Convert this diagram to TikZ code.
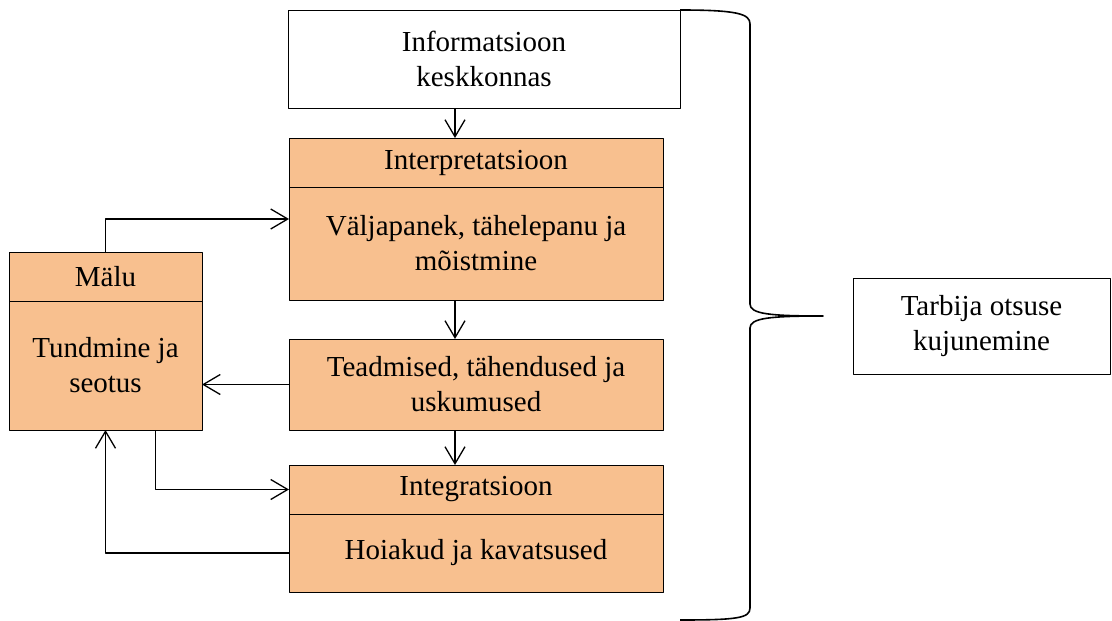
\documentclass[tikz,border=0pt]{standalone}
\usepackage{fontspec}
\setmainfont{Liberation Serif}
\usetikzlibrary{arrows.meta,calc,positioning}
\definecolor{boxfill}{HTML}{F8C08F}

\begin{document}
\begin{tikzpicture}[x=1pt,y=-1pt,>={Straight Barb[length=17pt,width=20pt]},line join=round,
  font=\fontsize{29}{35}\selectfont,
  box/.style={draw,line width=1pt,inner sep=0pt,outer sep=0pt,align=center},
  stage/.style={box,fill=boxfill,minimum width=374pt},
  flow/.style={->,line width=1.3pt}]
  \useasboundingbox (0,0) rectangle (1112,621);
  \coordinate (ax) at (455,0);
  % boxes
  \node[box,minimum width=392pt,minimum height=98pt] (info) at (484,59) {Informatsioon\\keskkonnas};
  \node[stage,minimum height=49pt] (interpt) at (476,162.5) {Interpretatsioon};
  \node[stage,minimum height=113pt,below=0pt of interpt] (interpb) {Väljapanek, tähelepanu ja\\mõistmine};
  \node[stage,minimum height=91pt] (teadm) at (476,384.5) {Teadmised, tähendused ja\\uskumused};
  \node[stage,minimum height=49pt] (integt) at (476,489.5) {Integratsioon};
  \node[stage,minimum height=78pt,below=0pt of integt] (integb) {Hoiakud ja kavatsused};
  \node[stage,minimum width=193pt,minimum height=49pt] (malut) at (105.5,276.5) {Mälu};
  \node[stage,minimum width=193pt,minimum height=129pt,below=0pt of malut] (malub) {Tundmine ja\\seotus};
  \node[box,minimum width=257pt,minimum height=96pt] (tarbija) at (981.5,326) {Tarbija otsuse\\kujunemine};
  % arrows
  \draw[flow] (info.south -| ax) -- (interpt.north -| ax);
  \draw[flow] (interpb.south -| ax) -- (teadm.north -| ax);
  \draw[flow] (teadm.south -| ax) -- (integt.north -| ax);
  \draw[flow] (malut.north) |- ($(interpt.north west)!0.5!(interpb.south west)$);
  \draw[flow] (teadm.west) -- (teadm.west -| malub.east);
  \draw[flow] ($(malub.south)+(50,0)$) |- (integt.west);
  \draw[flow] (integb.west) -| (malub.south);
  % brace
  \draw[line width=1.6pt] (680,10) .. controls (738,10) and (750,14) .. (750,24) -- (750,304)
    .. controls (750,314) and (770,316) .. (823,316)
    .. controls (770,316) and (750,318) .. (750,328) -- (750,608)
    .. controls (750,618) and (738,620) .. (680,620);
\end{tikzpicture}
\end{document}
